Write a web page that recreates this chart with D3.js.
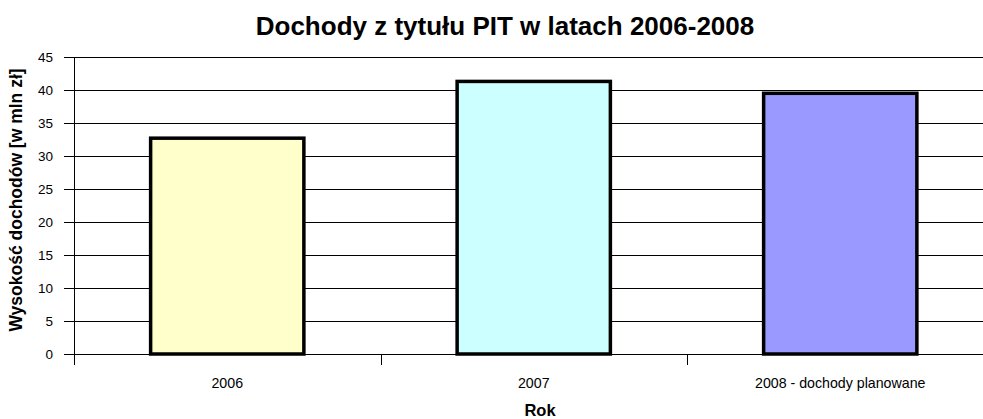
<!DOCTYPE html>
<html>
<head>
<meta charset="utf-8">
<script src="https://cdn.jsdelivr.net/npm/d3@7"></script>
<style>
  body { margin: 0; background: #fff; }
  svg { font-family: Arial, "Liberation Sans", sans-serif; }
</style>
</head>
<body>
<svg id="chart" width="983" height="419"></svg>
<script>
// values (mln zł)
const years = ['2006', '2007', '2008 - dochody planowane'];
const incomes = [32.7, 41.3, 39.5];
const barColors = ['#FFFFCC', '#CCFFFF', '#9999FF'];
const yTicks = [0, 5, 10, 15, 20, 25, 30, 35, 40, 45];

const svg = d3.select('#chart');
const plotLeft = 74, plotRight = 993.5, plotTop = 57, plotBottom = 354;

const x = d3.scaleBand().domain(years).range([plotLeft, plotRight]).paddingInner(0).paddingOuter(0);
const y = d3.scaleLinear().domain([0, 45]).range([plotBottom, plotTop]);

// gridlines with short outside ticks
svg.append('g')
    .selectAll('line')
    .data(yTicks)
    .join('line')
    .attr('x1', plotLeft - 10)
    .attr('x2', 983)
    .attr('y1', d => Math.round(y(d)) + 0.5)
    .attr('y2', d => Math.round(y(d)) + 0.5)
    .attr('stroke', '#000')
    .attr('stroke-width', 1);

// y labels
svg.append('g')
    .selectAll('text')
    .data(yTicks)
    .join('text')
    .attr('x', 53)
    .attr('y', d => y(d))
    .attr('dy', '0.35em')
    .attr('text-anchor', 'end')
    .attr('font-size', 13.5)
    .text(d => d);

// y axis line
svg.append('line')
    .attr('x1', plotLeft + 0.5).attr('x2', plotLeft + 0.5)
    .attr('y1', plotTop).attr('y2', plotBottom + 11)
    .attr('stroke', '#000');

// category ticks between bands
svg.append('g')
    .selectAll('line')
    .data(years.slice(1))
    .join('line')
    .attr('x1', d => Math.round(x(d)) + 0.5)
    .attr('x2', d => Math.round(x(d)) + 0.5)
    .attr('y1', plotBottom)
    .attr('y2', plotBottom + 11)
    .attr('stroke', '#000');

// bars
const barW = x.bandwidth() * 0.5;
svg.append('g')
    .selectAll('rect')
    .data(years)
    .join('rect')
    .attr('x', d => x(d) + (x.bandwidth() - barW) / 2)
    .attr('y', (d, i) => y(incomes[i]))
    .attr('width', barW)
    .attr('height', (d, i) => y(0) - y(incomes[i]))
    .attr('fill', (d, i) => barColors[i])
    .attr('stroke', '#000')
    .attr('stroke-width', 3.5);

// category labels
svg.append('g')
    .selectAll('text')
    .data(years)
    .join('text')
    .attr('x', d => x(d) + x.bandwidth() / 2)
    .attr('y', 388)
    .attr('text-anchor', 'middle')
    .attr('font-size', 14.2)
    .text(d => d);

// title
svg.append('text')
    .attr('x', 505).attr('y', 35)
    .attr('text-anchor', 'middle')
    .attr('font-size', 26)
    .attr('font-weight', 'bold')
    .text('Dochody z tytułu PIT w latach 2006-2008');

// axis titles
svg.append('text')
    .attr('x', 540).attr('y', 416)
    .attr('text-anchor', 'middle')
    .attr('font-size', 16.5)
    .attr('font-weight', 'bold')
    .text('Rok');

svg.append('text')
    .attr('transform', 'translate(22,200) rotate(-90)')
    .attr('text-anchor', 'middle')
    .attr('font-size', 17.5)
    .attr('font-weight', 'bold')
    .text('Wysokość dochodów [w mln zł]');
</script>
</body>
</html>
